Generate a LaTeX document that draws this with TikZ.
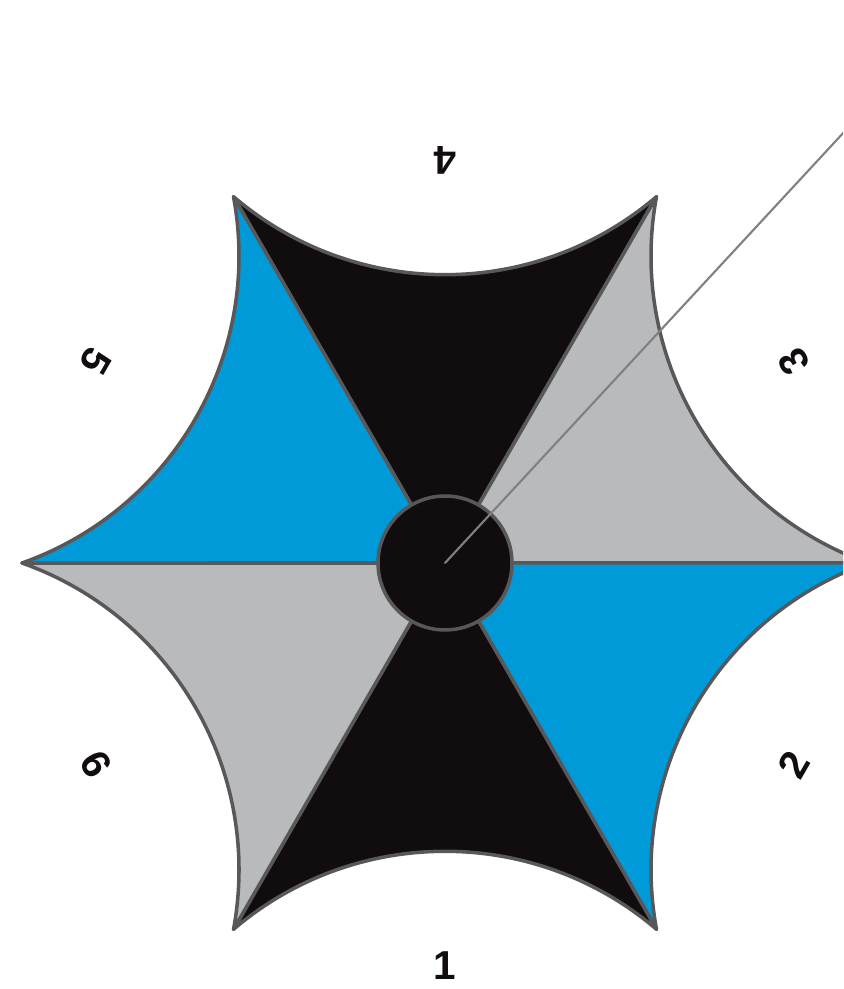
\documentclass[tikz,border=0pt]{standalone}
\usepackage{fontspec}
\setmainfont{Liberation Sans}
\usepackage{tikz}
\usetikzlibrary{positioning}

\definecolor{wblue}{HTML}{009AD8}
\definecolor{wgray}{HTML}{B9BABC}
\definecolor{wblack}{HTML}{110C0E}
\definecolor{wedge}{HTML}{58585A}
\definecolor{wneedle}{HTML}{808080}

\begin{document}
\begin{tikzpicture}[
    x=0.02cm, y=0.02cm,
    sector/.style={draw=wedge, line width=2pt, line join=round},
    hubdisc/.style={draw=wedge, line width=2pt, circle, fill=wblack, minimum size=2.68cm, inner sep=0pt},
    num/.style={font=\fontsize{23}{27}\selectfont\bfseries, text=wblack, inner sep=0pt},
    needle/.style={draw=wneedle, line width=1.2pt, line cap=round}
]
\clip (0,0) rectangle (843,989);
\begin{scope}[shift={(445,426)}]
\foreach \m/\col/\lab in {90/wblack/4, 30/wgray/3, -30/wblue/2, -90/wblack/1, -150/wgray/6, 150/wblue/5}{
  \draw[sector, fill=\col] (0,0) -- (\m-30:423)
    arc[start angle=\m+220.5, end angle=\m+139.5, radius=325.7] -- cycle;
  \node[num, rotate=\m+90] (lab\lab) at (\m:403) {\lab};
}
\node[hubdisc] (hub) at (0,0) {};
\coordinate (tip) at (47.2:700);
\draw[needle] (hub.center) -- (tip);
\end{scope}
\end{tikzpicture}
\end{document}
